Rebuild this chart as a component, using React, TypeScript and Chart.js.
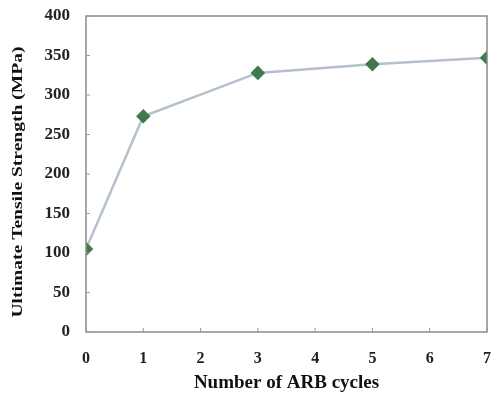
import React, { useEffect, useRef } from "react";
import { Chart, registerables } from "chart.js";

Chart.register(...registerables);

const cycles = [0, 1, 3, 5, 7];
const strength = [105, 273, 328, 339, 347];
const xTicks = [0, 1, 2, 3, 4, 5, 6, 7];
const yTicks = [0, 50, 100, 150, 200, 250, 300, 350, 400];
const xTitle = "Number of ARB cycles";
const yTitle = "Ultimate Tensile Strength (MPa)";

const FONT = "'Liberation Serif', 'Times New Roman', serif";

const framePlugin = {
  id: "frame",
  afterDraw(chart: any) {
    const { ctx, chartArea, scales } = chart;
    ctx.save();
    ctx.strokeStyle = "#8a8a8a";
    ctx.lineWidth = 1.5;
    ctx.strokeRect(chartArea.left, chartArea.top, chartArea.right - chartArea.left, chartArea.bottom - chartArea.top);
    ctx.lineWidth = 1;
    ctx.strokeStyle = "#9a9a9a";
    xTicks.forEach((v) => {
      const x = scales.x.getPixelForValue(v);
      ctx.beginPath();
      ctx.moveTo(x, chartArea.bottom);
      ctx.lineTo(x, chartArea.bottom - 4);
      ctx.stroke();
    });
    yTicks.forEach((v) => {
      const y = scales.y.getPixelForValue(v);
      ctx.beginPath();
      ctx.moveTo(chartArea.left, y);
      ctx.lineTo(chartArea.left + 4, y);
      ctx.stroke();
    });
    // rotated y-axis title, stretched along its baseline like the reference
    ctx.font = `bold 14px ${FONT}`;
    ctx.fillStyle = "#111";
    ctx.textAlign = "center";
    ctx.textBaseline = "middle";
    const w = ctx.measureText(yTitle).width;
    const sx = 271 / w;
    ctx.translate(18, (chartArea.top + chartArea.bottom) / 2 + 8);
    ctx.rotate(-Math.PI / 2);
    ctx.scale(sx, 1);
    ctx.fillText(yTitle, 0, 0);
    ctx.restore();
  },
};

export default function App() {
  const ref = useRef<HTMLCanvasElement>(null);
  useEffect(() => {
    if (!ref.current) return;
    const chart = new Chart(ref.current, {
      type: "line",
      data: {
        datasets: [
          {
            data: cycles.map((c, i) => ({ x: c, y: strength[i] })),
            borderColor: "#b4c0cc",
            borderWidth: 2.5,
            pointStyle: "rectRot",
            pointRadius: 5.5,
            pointBackgroundColor: "#3f7a4e",
            pointBorderColor: "#3f7a4e",
            tension: 0,
          },
        ],
      },
      plugins: [framePlugin],
      options: {
        animation: false,
        responsive: false,
        layout: { padding: { left: 0, right: 8, top: 16, bottom: 0 } },
        plugins: { legend: { display: false }, tooltip: { enabled: false } },
        scales: {
          x: {
            type: "linear",
            min: 0,
            max: 7,
            afterBuildTicks: (s: any) => {
              s.ticks = xTicks.map((v) => ({ value: v }));
            },
            afterFit: (s: any) => {
              s.height = 66;
              s.paddingLeft = 0;
              s.paddingRight = 0;
            },
            grid: { display: false, drawTicks: false, tickLength: 0 },
            border: { display: false },
            ticks: {
              padding: 17,
              maxRotation: 0,
              color: "#222",
              font: { family: FONT, size: 16, weight: "bold" },
            },
            title: {
              display: true,
              text: xTitle,
              color: "#111",
              padding: { top: 6, bottom: 4 },
              font: { family: FONT, size: 19, weight: "bold" },
            },
          },
          y: {
            min: 0,
            max: 400,
            afterBuildTicks: (s: any) => {
              s.ticks = yTicks.map((v) => ({ value: v }));
            },
            afterFit: (s: any) => {
              s.width = 86;
              s.paddingTop = 0;
              s.paddingBottom = 0;
            },
            grid: { display: false, drawTicks: false, tickLength: 0 },
            border: { display: false },
            ticks: {
              padding: 16,
              color: "#222",
              font: { family: FONT, size: 17, weight: "bold" },
            },
            title: { display: false },
          },
        },
      },
    } as any);
    return () => chart.destroy();
  }, []);
  return (
    <div style={{ position: "fixed", left: 0, top: 0, width: 495, height: 398, background: "#fff" }}>
      <canvas ref={ref} width={495} height={398} style={{ width: 495, height: 398 }} />
    </div>
  );
}
